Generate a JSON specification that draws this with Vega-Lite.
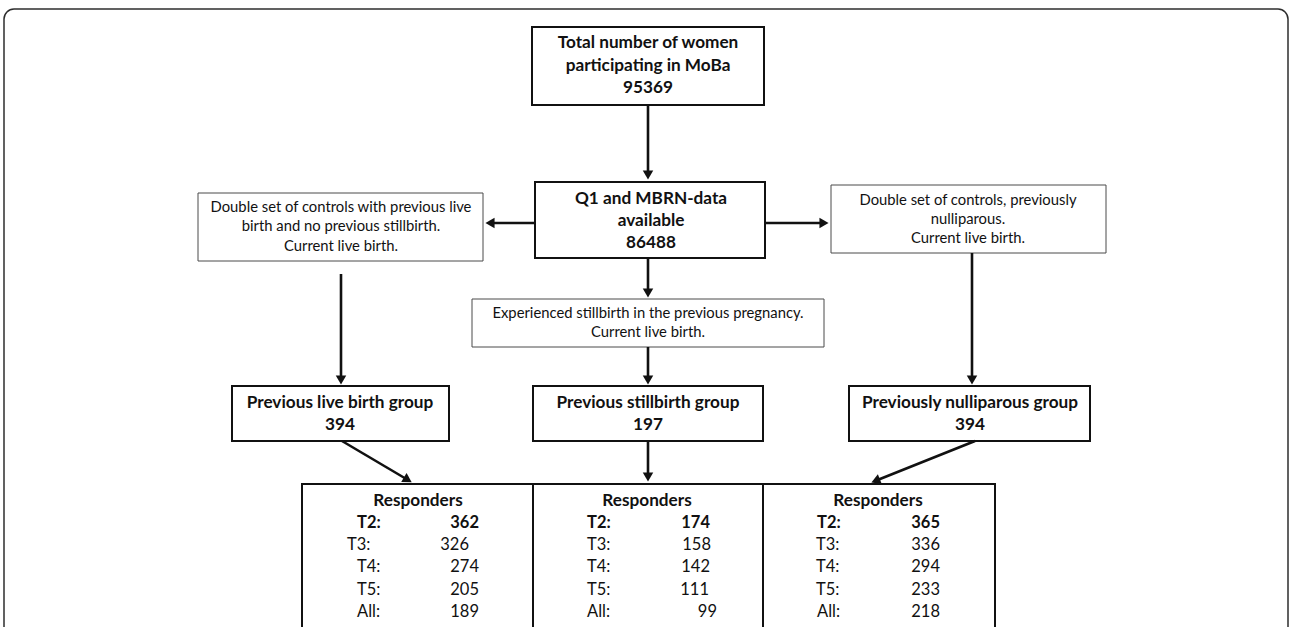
{
  "$schema": "https://vega.github.io/schema/vega-lite/v6.json",
  "width": 1292,
  "height": 627,
  "padding": 0,
  "autosize": {"type": "none"},
  "background": "white",
  "config": {"view": {"stroke": null}},
  "datasets": {
    "frame": [{"x": 4, "x2": 1288, "y": 9, "y2": 720}],
    "boldBoxes": [
      {"id": "total", "x": 532, "x2": 764, "y": 27, "y2": 105},
      {"id": "q1", "x": 535, "x2": 765, "y": 182, "y2": 258},
      {"id": "gLive", "x": 232, "x2": 449, "y": 386, "y2": 441},
      {"id": "gStill", "x": 533, "x2": 763, "y": 386, "y2": 441},
      {"id": "gNull", "x": 849, "x2": 1090, "y": 386, "y2": 441},
      {"id": "rLive", "x": 302, "x2": 533, "y": 484, "y2": 720},
      {"id": "rStill", "x": 533, "x2": 763, "y": 484, "y2": 720},
      {"id": "rNull", "x": 763, "x2": 995, "y": 484, "y2": 720}
    ],
    "thinBoxes": [
      {"id": "cLive", "x": 198, "x2": 483, "y": 193, "y2": 261},
      {"id": "cNull", "x": 831, "x2": 1106, "y": 185, "y2": 253},
      {"id": "cStill", "x": 472, "x2": 824, "y": 299, "y2": 347}
    ],
    "links": [
      {"x": 648, "y": 105, "x2": 648, "y2": 176},
      {"x": 648, "y": 258, "x2": 648, "y2": 294},
      {"x": 648, "y": 347, "x2": 648, "y2": 381},
      {"x": 648, "y": 441, "x2": 648, "y2": 478},
      {"x": 535, "y": 223, "x2": 489, "y2": 223},
      {"x": 765, "y": 223, "x2": 825, "y2": 223},
      {"x": 341, "y": 274, "x2": 341, "y2": 381},
      {"x": 972, "y": 253, "x2": 972, "y2": 381},
      {"x": 342, "y": 441, "x2": 408, "y2": 480},
      {"x": 975, "y": 441, "x2": 875, "y2": 481}
    ],
    "heads": [
      {"x": 648, "y": 175, "dir": 180},
      {"x": 648, "y": 293, "dir": 180},
      {"x": 648, "y": 380, "dir": 180},
      {"x": 648, "y": 477, "dir": 180},
      {"x": 341, "y": 380, "dir": 180},
      {"x": 972, "y": 380, "dir": 180},
      {"x": 490, "y": 223, "dir": 270},
      {"x": 824, "y": 223, "dir": 90},
      {"x": 407.8, "y": 479.9, "dir": 120.6},
      {"x": 875.6, "y": 480.8, "dir": 248.2}
    ],
    "titles": [
      {"x": 648, "y": 43, "t": "Total number of women"},
      {"x": 648, "y": 66, "t": "participating in MoBa"},
      {"x": 648, "y": 88, "t": "95369"},
      {"x": 651, "y": 199, "t": "Q1 and MBRN-data"},
      {"x": 651, "y": 221, "t": "available"},
      {"x": 651, "y": 243, "t": "86488"},
      {"x": 340, "y": 403, "t": "Previous live birth group"},
      {"x": 340, "y": 425, "t": "394"},
      {"x": 648, "y": 403, "t": "Previous stillbirth group"},
      {"x": 648, "y": 425, "t": "197"},
      {"x": 970, "y": 403, "t": "Previously nulliparous group"},
      {"x": 970, "y": 425, "t": "394"},
      {"x": 418, "y": 501, "t": "Responders"},
      {"x": 647, "y": 501, "t": "Responders"},
      {"x": 878, "y": 501, "t": "Responders"}
    ],
    "descs": [
      {"x": 341, "y": 208, "t": "Double set of controls with previous live"},
      {"x": 341, "y": 227, "t": "birth and no previous stillbirth."},
      {"x": 341, "y": 247, "t": "Current live birth."},
      {"x": 968, "y": 201, "t": "Double set of controls, previously"},
      {"x": 968, "y": 220, "t": "nulliparous."},
      {"x": 968, "y": 239, "t": "Current live birth."},
      {"x": 648, "y": 314, "t": "Experienced stillbirth in the previous pregnancy."},
      {"x": 648, "y": 333, "t": "Current live birth."}
    ],
    "responders": [
      {"group": "Previous live birth", "wave": "T2:", "n": 362, "lx": 357, "vx": 479, "y": 523, "lead": true},
      {"group": "Previous live birth", "wave": "T3:", "n": 326, "lx": 347, "vx": 469, "y": 545, "lead": false},
      {"group": "Previous live birth", "wave": "T4:", "n": 274, "lx": 357, "vx": 479, "y": 567, "lead": false},
      {"group": "Previous live birth", "wave": "T5:", "n": 205, "lx": 357, "vx": 479, "y": 590, "lead": false},
      {"group": "Previous live birth", "wave": "All:", "n": 189, "lx": 357, "vx": 479, "y": 612, "lead": false},
      {"group": "Previous stillbirth", "wave": "T2:", "n": 174, "lx": 587, "vx": 710, "y": 523, "lead": true},
      {"group": "Previous stillbirth", "wave": "T3:", "n": 158, "lx": 587, "vx": 711, "y": 545, "lead": false},
      {"group": "Previous stillbirth", "wave": "T4:", "n": 142, "lx": 587, "vx": 710, "y": 567, "lead": false},
      {"group": "Previous stillbirth", "wave": "T5:", "n": 111, "lx": 587, "vx": 709, "y": 590, "lead": false},
      {"group": "Previous stillbirth", "wave": "All:", "n": 99, "lx": 587, "vx": 717, "y": 612, "lead": false},
      {"group": "Previously nulliparous", "wave": "T2:", "n": 365, "lx": 817, "vx": 940, "y": 523, "lead": true},
      {"group": "Previously nulliparous", "wave": "T3:", "n": 336, "lx": 816, "vx": 940, "y": 545, "lead": false},
      {"group": "Previously nulliparous", "wave": "T4:", "n": 294, "lx": 816, "vx": 940, "y": 567, "lead": false},
      {"group": "Previously nulliparous", "wave": "T5:", "n": 233, "lx": 816, "vx": 940, "y": 590, "lead": false},
      {"group": "Previously nulliparous", "wave": "All:", "n": 218, "lx": 817, "vx": 940, "y": 612, "lead": false}
    ]
  },
  "encoding": {
    "x": {"field": "x", "type": "quantitative", "scale": {"domain": [0, 1292], "nice": false, "zero": false}, "axis": null},
    "y": {"field": "y", "type": "quantitative", "scale": {"domain": [0, 627], "nice": false, "zero": false, "reverse": true}, "axis": null}
  },
  "layer": [
    {
      "data": {"name": "frame"},
      "mark": {"type": "rect", "fill": "white", "stroke": "#2e2e2e", "strokeWidth": 1.5, "cornerRadius": 10, "clip": true},
      "encoding": {"x2": {"field": "x2"}, "y2": {"field": "y2"}}
    },
    {
      "data": {"name": "thinBoxes"},
      "mark": {"type": "rect", "fill": "white", "stroke": "#4a4a4a", "strokeWidth": 1},
      "encoding": {"x2": {"field": "x2"}, "y2": {"field": "y2"}}
    },
    {
      "data": {"name": "boldBoxes"},
      "mark": {"type": "rect", "fill": "white", "stroke": "#111111", "strokeWidth": 2, "clip": true},
      "encoding": {"x2": {"field": "x2"}, "y2": {"field": "y2"}}
    },
    {
      "data": {"name": "links"},
      "mark": {"type": "rule", "stroke": "#111111", "strokeWidth": 2.6},
      "encoding": {"x2": {"field": "x2"}, "y2": {"field": "y2"}}
    },
    {
      "data": {"name": "heads"},
      "mark": {"type": "point", "shape": "triangle-up", "filled": true, "fill": "#111111", "stroke": null, "size": 110, "opacity": 1},
      "encoding": {"angle": {"field": "dir", "type": "quantitative", "scale": null}}
    },
    {
      "data": {"name": "titles"},
      "mark": {"type": "text", "font": "Lato", "fontWeight": "bold", "fontSize": 17.2, "align": "center", "baseline": "middle", "color": "#111111"},
      "encoding": {"text": {"field": "t"}}
    },
    {
      "data": {"name": "descs"},
      "mark": {"type": "text", "font": "Lato", "fontSize": 14.8, "align": "center", "baseline": "middle", "color": "#111111"},
      "encoding": {"text": {"field": "t"}}
    },
    {
      "data": {"name": "responders"},
      "transform": [{"filter": "datum.lead"}],
      "mark": {"type": "text", "font": "Lato", "fontWeight": "bold", "fontSize": 16.5, "align": "left", "baseline": "middle", "color": "#111111"},
      "encoding": {"x": {"field": "lx", "type": "quantitative"}, "text": {"field": "wave"}}
    },
    {
      "data": {"name": "responders"},
      "transform": [{"filter": "datum.lead"}],
      "mark": {"type": "text", "font": "Lato", "fontWeight": "bold", "fontSize": 16.5, "align": "right", "baseline": "middle", "color": "#111111"},
      "encoding": {"x": {"field": "vx", "type": "quantitative"}, "text": {"field": "n", "type": "nominal"}}
    },
    {
      "data": {"name": "responders"},
      "transform": [{"filter": "!datum.lead"}],
      "mark": {"type": "text", "font": "Lato", "fontSize": 16.5, "align": "left", "baseline": "middle", "color": "#111111"},
      "encoding": {"x": {"field": "lx", "type": "quantitative"}, "text": {"field": "wave"}}
    },
    {
      "data": {"name": "responders"},
      "transform": [{"filter": "!datum.lead"}],
      "mark": {"type": "text", "font": "Lato", "fontSize": 16.5, "align": "right", "baseline": "middle", "color": "#111111"},
      "encoding": {"x": {"field": "vx", "type": "quantitative"}, "text": {"field": "n", "type": "nominal"}}
    }
  ]
}
